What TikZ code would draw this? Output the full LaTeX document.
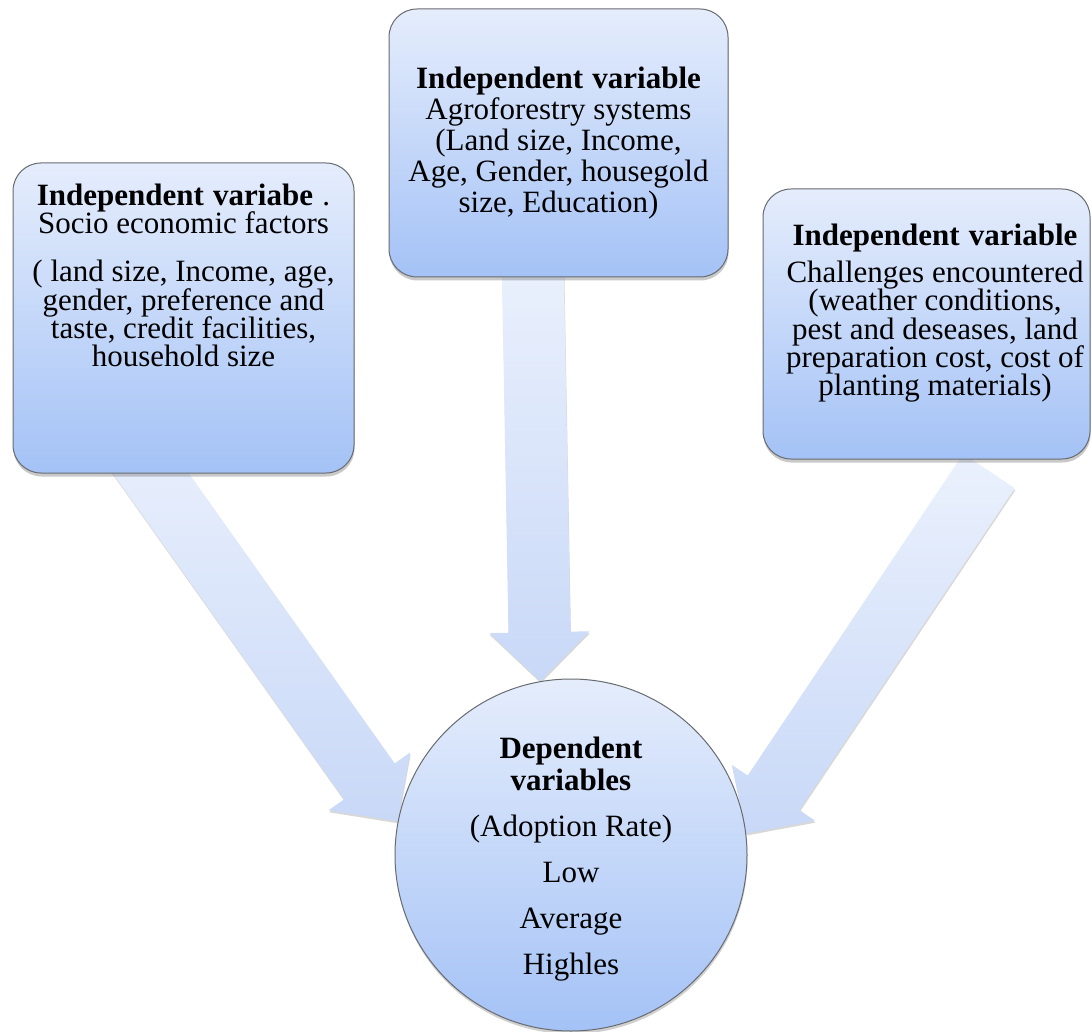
\documentclass[tikz,border=0pt]{standalone}
\usepackage{fontspec}
\setmainfont{Liberation Serif}
\usepackage{xcolor}
\usetikzlibrary{calc,positioning,shadows,backgrounds}

\definecolor{boxtop}{HTML}{E5EDFC}
\definecolor{boxbot}{HTML}{A4C2F6}
\definecolor{arrtop}{HTML}{EBF1FD}
\definecolor{arrbot}{HTML}{C8D8F7}
\definecolor{edgegray}{HTML}{686B70}

% font of the box texts, #1 = line distance
\newcommand{\boxfont}[1]{\fontsize{31}{#1}\selectfont\lineskiplimit=-40pt}
\newcommand{\headsp}{\hspace{0.3em}}

% broad arrow from tail #1 to tip #2
\newcommand{\blockarrow}[2]{%
  \coordinate (headBase) at ($(#2)!49pt!(#1)$);
  \path[arrowbody] ($(#1)!31pt!90:(#2)$) -- ($(headBase)!31pt!90:(#2)$)
    -- ($(headBase)!50pt!90:(#2)$) -- (#2) -- ($(headBase)!50pt!-90:(#2)$)
    -- ($(headBase)!31pt!-90:(#2)$) -- ($(#1)!31pt!-90:(#2)$) -- cycle;}

\tikzset{
  varbox/.style={draw=edgegray, line width=1pt, rounded corners=28pt,
    top color=boxtop, bottom color=boxbot, inner sep=0pt, align=center,
    drop shadow={shadow xshift=0.5pt, shadow yshift=-3.5pt, opacity=0.35, fill=black!60}},
  depcircle/.style={circle, draw=edgegray, line width=1pt, minimum size=352pt,
    top color=boxtop, bottom color=boxbot, inner sep=0pt,
    drop shadow={shadow xshift=0.5pt, shadow yshift=-3pt, opacity=0.3, fill=black!60}},
  boxtext/.style={anchor=north, align=center, inner sep=0pt},
  arrowbody/.style={top color=arrtop, bottom color=arrbot,
    drop shadow={shadow xshift=0.5pt, shadow yshift=-2pt, opacity=0.25, fill=black!60}},
}

\begin{document}
\begin{tikzpicture}[x=1pt,y=-1pt]
    \path[use as bounding box] (0,0) rectangle (1092,1032);

    % Independent variables
    \node[varbox, minimum width=341, minimum height=310] (socio) at (183.5,318) {};
    \node[boxtext, font=\boxfont{28.3}, below=21pt of socio.north] (socioText)
        {\textbf{Independent\headsp variabe}\headsp .\\
         Socio economic factors\\[20pt]
         ( land size, Income, age,\\
         gender, preference and\\
         taste, credit facilities,\\
         household size};

    \node[varbox, minimum width=339, minimum height=268, font=\boxfont{30.8}] (agro) at (558.5,143)
        {\textbf{Independent\headsp variable}\\
         Agroforestry systems\\
         (Land size, Income,\\
         Age, Gender, housegold\\
         size, Education)};

    \node[varbox, minimum width=327, minimum height=270] (chal) at (926.5,324) {};
    \node[boxtext, font=\boxfont{28.3}, below=35pt of chal.north, xshift=8.5pt] (chalText)
        {\textbf{Independent\headsp variable}\\[9pt]
         Challenges encountered\\
         (weather conditions,\\
         pest and deseases, land\\
         preparation cost, cost of\\
         planting materials)};

    % Dependent variable
    \node[depcircle] (rate) at (571,855) {};
    \node[boxtext, font=\boxfont{32}, below=58pt of rate.north] (rateText)
        {\textbf{Dependent}\\
         \textbf{variables}\\[14pt]
         (Adoption Rate)\\[14pt]
         Low\\[14pt]
         Average\\[14pt]
         Highles};

    % Arrows (tails hidden under the boxes)
    \coordinate (socioTail) at ($(socio.south)+(-63,-43)$);
    \coordinate (agroTail) at ($(agro.south)+(-26,-27)$);
    \coordinate (chalTail) at ($(chal.south)+(62.5,11.5)$);
    \begin{scope}[on background layer]
        \fill[white] (0,0) rectangle (1092,1032);
        \blockarrow{socioTail}{rate.169}
        \blockarrow{agroTail}{rate.100}
        \blockarrow{chalTail}{rate.7}
    \end{scope}
\end{tikzpicture}
\end{document}
